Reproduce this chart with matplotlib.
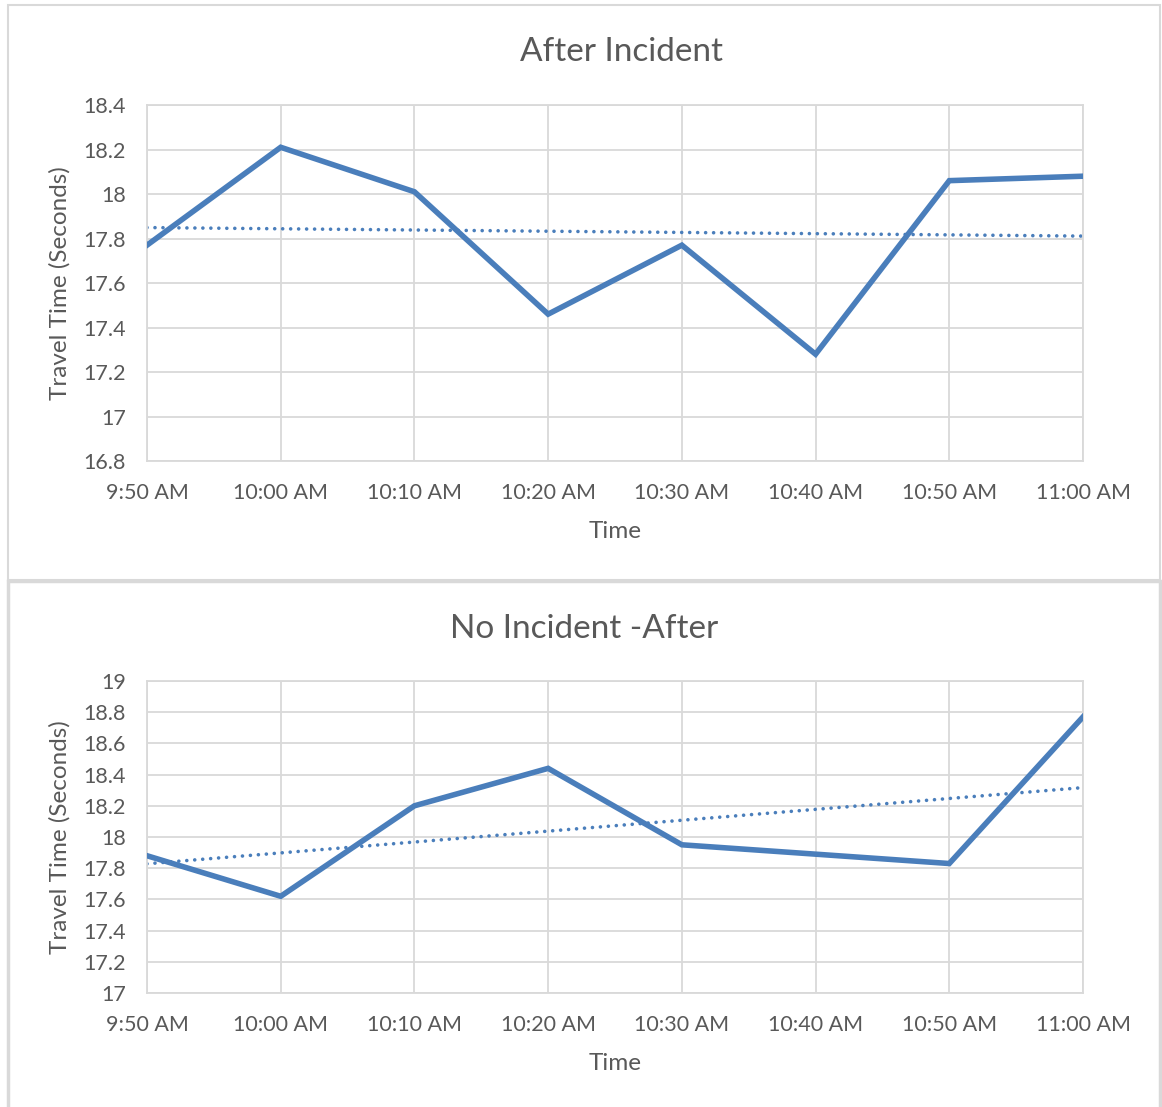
import numpy as np
import matplotlib.pyplot as plt
from matplotlib.patches import Rectangle

times = ["9:50 AM", "10:00 AM", "10:10 AM", "10:20 AM",
         "10:30 AM", "10:40 AM", "10:50 AM", "11:00 AM"]
after_incident = [17.77, 18.21, 18.01, 17.46, 17.77, 17.28, 18.06, 18.08]
no_incident_after = [17.88, 17.62, 18.20, 18.44, 17.95, 17.89, 17.83, 18.77]

BLUE = "#4a7ebb"
GRID = "#d9d9d9"
TXT = "#595959"

plt.rcParams['font.family'] = ['Lato', 'DejaVu Sans']

W, H = 1162, 1107
fig = plt.figure(figsize=(W / 100, H / 100), dpi=100)


def px_box(x0, y0, x1, y1):
    # pixel box (top-left origin) -> figure fraction rect
    return [x0 / W, 1 - y1 / H, (x1 - x0) / W, (y1 - y0) / H]


def draw_panel(box, values, ylim, yticks, ytick_labels, title, title_x, title_y,
               xlabel_y):
    ax = fig.add_axes(px_box(*box))
    x = np.arange(len(values))
    ax.plot(x, values, color=BLUE, lw=4.0, solid_joinstyle='miter', zorder=3)
    # linear trendline
    k, b = np.polyfit(x, values, 1)
    ax.plot(x, k * x + b, color=BLUE, lw=2.6, linestyle=(0, (0.01, 2.2)),
            dash_capstyle='round', zorder=2)
    ax.set_xlim(0, len(values) - 1)
    ax.set_ylim(*ylim)
    ax.set_xticks(x)
    ax.set_xticklabels(times)
    ax.set_yticks(yticks)
    ax.set_yticklabels(ytick_labels)
    ax.grid(True, color=GRID, lw=1.3)
    ax.set_axisbelow(True)
    for s in ax.spines.values():
        s.set_color(GRID)
        s.set_linewidth(1.3)
    ax.tick_params(length=0, labelsize=15.5, labelcolor=TXT)
    ax.tick_params(axis='x', pad=16)
    ax.tick_params(axis='y', pad=15)
    ymid = (box[1] + box[3]) / 2
    fig.text(60 / W, 1 - ymid / H, "Travel Time (Seconds)", rotation=90,
             ha='center', va='center', fontsize=17.5, color=TXT)
    fig.text(615 / W, 1 - xlabel_y / H, "Time", ha='center', va='center',
             fontsize=17.5, color=TXT)
    fig.text(title_x / W, 1 - title_y / H, title, ha='center', va='center',
             fontsize=24, color=TXT)
    return ax


# chart frames
fig.patches.append(Rectangle((8 / W, 1 - 580 / H), 1152 / W, 575 / H,
                             transform=fig.transFigure, fill=False,
                             edgecolor=GRID, lw=1.5))
fig.patches.append(Rectangle((8 / W, -0.01), 1152 / W, 1 - 581 / H + 0.01,
                             transform=fig.transFigure, fill=False,
                             edgecolor=GRID, lw=2.5))

draw_panel((147, 105, 1083, 461), after_incident, (16.8, 18.4),
           np.arange(16.8, 18.41, 0.2),
           ["16.8", "17", "17.2", "17.4", "17.6", "17.8", "18", "18.2", "18.4"],
           "After Incident", 621, 52, 531)

draw_panel((147, 681, 1083, 993), no_incident_after, (17, 19),
           np.arange(17, 19.01, 0.2),
           ["17", "17.2", "17.4", "17.6", "17.8", "18", "18.2", "18.4",
            "18.6", "18.8", "19"],
           "No Incident -After", 584, 629, 1063)

fig.savefig("out.png", dpi=100)
